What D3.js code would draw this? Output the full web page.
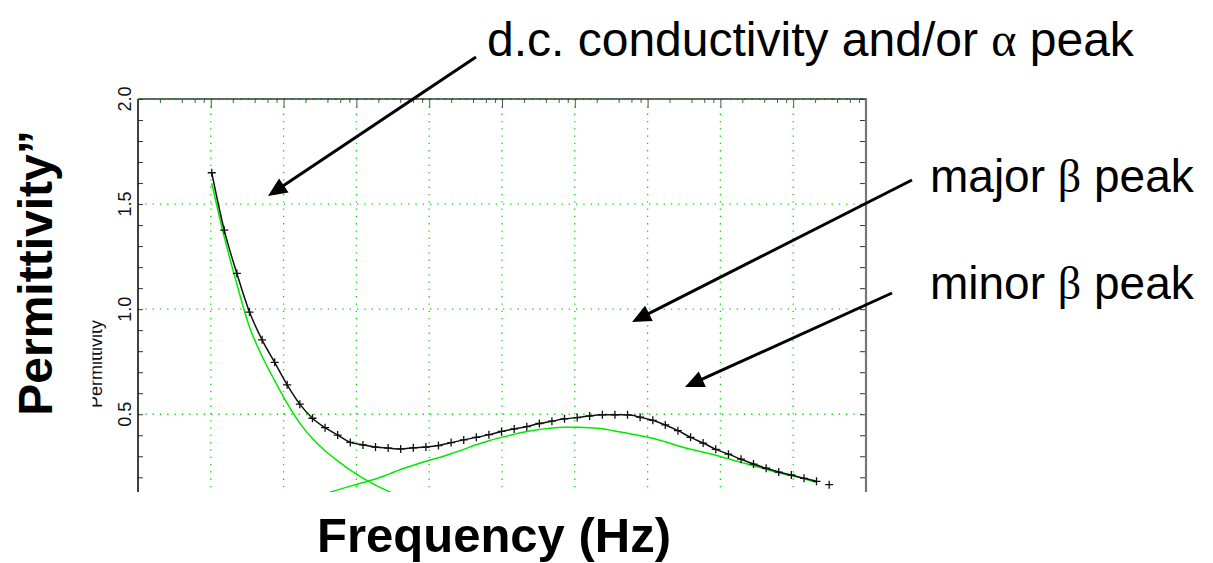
<!DOCTYPE html>
<html>
<head>
<meta charset="utf-8">
<script src="https://cdn.jsdelivr.net/npm/d3@7"></script>
<style>
  body { margin: 0; background: #fff; }
  svg { display: block; font-family: Arial, "Liberation Sans", sans-serif; }
</style>
</head>
<body>
<div id="chart"></div>
<script>
const frequencies = [
  1.03e1, 1.53e1, 2.28e1, 3.40e1, 5.06e1, 7.54e1, 1.12e2, 1.67e2, 2.49e2, 3.71e2,
  5.53e2, 8.24e2, 1.23e3, 1.83e3, 2.73e3, 4.06e3, 6.05e3, 9.01e3, 1.34e4, 2.00e4,
  2.98e4, 4.44e4, 6.61e4, 9.85e4, 1.47e5, 2.19e5, 3.26e5, 4.85e5, 7.22e5, 1.08e6,
  1.60e6, 2.39e6, 3.56e6, 5.30e6, 7.89e6, 1.18e7, 1.75e7, 2.61e7, 3.89e7, 5.79e7,
  8.63e7, 1.29e8, 1.92e8, 2.85e8, 4.25e8, 6.33e8, 9.43e8, 1.41e9, 2.09e9, 3.12e9
];

// measured permittivity'' (black + markers)
const measured = [
  1.649, 1.376, 1.170, 0.986, 0.854, 0.747, 0.640, 0.548, 0.481, 0.436,
  0.401, 0.366, 0.354, 0.344, 0.339, 0.335, 0.340, 0.344, 0.351, 0.365,
  0.378, 0.390, 0.403, 0.418, 0.430, 0.441, 0.456, 0.467, 0.478, 0.484,
  0.492, 0.497, 0.497, 0.497, 0.486, 0.471, 0.449, 0.422, 0.390, 0.363,
  0.333, 0.310, 0.286, 0.263, 0.243, 0.225, 0.211, 0.195, 0.181, 0.165
];

// fitted components (green lines), null where not drawn
const dcComponent = [
  1.599, 1.344, 1.119, 0.915, 0.776, 0.660, 0.552, 0.458, 0.384, 0.326,
  0.278, 0.234, 0.196, 0.163, 0.134, 0.108
];
const betaComponent = [
  null, null, null, null, null, null, null, null, 0.105, 0.121,
  0.140, 0.158, 0.175, 0.192, 0.214, 0.237, 0.257, 0.276, 0.293, 0.312,
  0.333, 0.355, 0.374, 0.390, 0.405, 0.418, 0.427, 0.435, 0.438, 0.438,
  0.436, 0.431, 0.420, 0.410, 0.398, 0.386, 0.369, 0.350, 0.333, 0.319,
  0.305, 0.288, 0.271, 0.255, 0.238, 0.221, 0.208, 0.193, 0.176
];

const yTickValues = [0.5, 1.0, 1.5, 2.0];
const yTickLabels = ["0.5", "1.0", "1.5", "2.0"];
const xDomain = [1, 1e10];
const yDomain = [0.13, 2.0];

const width = 1213, height = 563;
const plot = { left: 138, top: 99, right: 866, bottom: 492 };

const svg = d3.select("#chart").append("svg")
  .attr("width", width)
  .attr("height", height)
  .attr("viewBox", [0, 0, width, height]);

const xScale = d3.scaleLog().domain(xDomain).range([plot.left, plot.right]);
const yScale = d3.scaleLinear().domain(yDomain).range([plot.bottom, plot.top]);

const gridColor = "#00dd00";
const lineGreen = "#00e800";

/*******************************/
/*    grid                     */
/*******************************/
const decades = d3.range(1, 10).map(p => Math.pow(10, p));

svg.append("g")
  .selectAll("line")
  .data(decades)
  .join("line")
    .attr("x1", d => xScale(d)).attr("x2", d => xScale(d))
    .attr("y1", plot.top).attr("y2", plot.bottom)
    .attr("stroke", gridColor)
    .attr("stroke-width", 1.3)
    .attr("stroke-dasharray", "1.3,6");

svg.append("g")
  .selectAll("line")
  .data(yTickValues)
  .join("line")
    .attr("x1", plot.left).attr("x2", plot.right)
    .attr("y1", d => yScale(d)).attr("y2", d => yScale(d))
    .attr("stroke", gridColor)
    .attr("stroke-width", 1.3)
    .attr("stroke-dasharray", "1.3,6");

/*******************************/
/*    axes / frame             */
/*******************************/
const minorY = d3.range(2, 21).map(v => v / 10);

svg.append("g")
  .attr("transform", `translate(${plot.left},0)`)
  .call(d3.axisLeft(yScale).tickValues(minorY).tickSize(-5).tickFormat(""))
  .call(g => g.select(".domain").remove())
  .call(g => g.selectAll("line").attr("stroke", "#333"));

svg.append("g")
  .attr("transform", `translate(${plot.right},0)`)
  .call(d3.axisRight(yScale).tickValues(minorY).tickSize(-6).tickFormat(""))
  .call(g => g.select(".domain").remove())
  .call(g => g.selectAll("line").attr("stroke", "#333"));

const minorX = [];
decades.concat([1]).forEach(d => [2, 4, 6, 8].forEach(m => minorX.push(d * m)));

svg.append("g")
  .attr("transform", `translate(0,${plot.top})`)
  .call(d3.axisTop(xScale).tickValues(minorX).tickSize(-4).tickFormat(""))
  .call(g => g.select(".domain").remove())
  .call(g => g.selectAll("line").attr("stroke", "#555"));

svg.append("g")
  .attr("transform", `translate(0,${plot.top})`)
  .call(d3.axisTop(xScale).tickValues(decades).tickSize(-9).tickFormat(""))
  .call(g => g.select(".domain").remove())
  .call(g => g.selectAll("line").attr("stroke", "#555"));

// frame
svg.append("line")
  .attr("x1", plot.left).attr("x2", plot.left)
  .attr("y1", plot.top).attr("y2", plot.bottom)
  .attr("stroke", "#111").attr("stroke-width", 1.6);
svg.append("line")
  .attr("x1", plot.left).attr("x2", plot.right)
  .attr("y1", plot.top).attr("y2", plot.top)
  .attr("stroke", "#333").attr("stroke-width", 1.6);
svg.append("line")
  .attr("x1", plot.right).attr("x2", plot.right)
  .attr("y1", plot.top - 1).attr("y2", plot.bottom)
  .attr("stroke", "#777").attr("stroke-width", 2.2);
// green dots over the top edge
svg.append("line")
  .attr("x1", plot.left).attr("x2", plot.right)
  .attr("y1", plot.top).attr("y2", plot.top)
  .attr("stroke", gridColor).attr("stroke-width", 1.2)
  .attr("stroke-dasharray", "1.2,6");

// y tick labels (rotated)
svg.append("g")
  .selectAll("text")
  .data(yTickValues)
  .join("text")
    .attr("transform", d => `translate(131,${yScale(d)}) rotate(-90)`)
    .attr("text-anchor", "middle")
    .attr("font-size", 18)
    .attr("fill", "#111")
    .text((d, i) => yTickLabels[i]);

// small, partly hidden axis title
svg.append("clipPath").attr("id", "smallTitleClip")
  .append("rect").attr("x", 92.5).attr("y", 300).attr("width", 20).attr("height", 130);
svg.append("g")
  .attr("clip-path", "url(#smallTitleClip)")
  .append("text")
    .attr("transform", "translate(102,364) rotate(-90)")
    .attr("text-anchor", "middle")
    .attr("font-size", 18)
    .attr("fill", "#111")
    .text("Permittivity");

/*******************************/
/*    curves                   */
/*******************************/
svg.append("clipPath").attr("id", "plotClip")
  .append("rect")
    .attr("x", plot.left).attr("y", plot.top)
    .attr("width", plot.right - plot.left)
    .attr("height", plot.bottom - plot.top);

const curves = svg.append("g").attr("clip-path", "url(#plotClip)");

const lineGen = d3.line()
  .defined(d => d.v != null)
  .x(d => xScale(d.f))
  .y(d => yScale(d.v))
  .curve(d3.curveMonotoneX);

const toPoints = arr => arr.map((v, i) => ({ f: frequencies[i], v }));

curves.append("path")
  .datum(toPoints(dcComponent))
  .attr("d", lineGen)
  .attr("fill", "none").attr("stroke", lineGreen).attr("stroke-width", 1.5);

curves.append("path")
  .datum(toPoints(betaComponent))
  .attr("d", lineGen)
  .attr("fill", "none").attr("stroke", lineGreen).attr("stroke-width", 1.5);

curves.append("path")
  .datum(toPoints(measured).slice(0, measured.length - 1))
  .attr("d", lineGen)
  .attr("fill", "none").attr("stroke", "#111").attr("stroke-width", 1.5);

svg.append("g")
  .selectAll("path")
  .data(toPoints(measured))
  .join("path")
    .attr("transform", d => `translate(${xScale(d.f)},${yScale(d.v)})`)
    .attr("d", "M-4,0H4M0,-4V4")
    .attr("stroke", "#111")
    .attr("stroke-width", 1.3);

/*******************************/
/*    titles & annotations     */
/*******************************/
svg.append("text")
  .attr("transform", "translate(52,273) rotate(-90)")
  .attr("text-anchor", "middle")
  .attr("font-size", 48)
  .attr("font-weight", "bold")
  .text("Permittivity\u201D");

svg.append("text")
  .attr("x", 494).attr("y", 552)
  .attr("text-anchor", "middle")
  .attr("font-size", 49)
  .attr("font-weight", "bold")
  .text("Frequency (Hz)");

const labels = [
  { x: 487, y: 56, size: 48, pre: "d.c. conductivity and/or ", greek: "\u03B1", post: " peak" },
  { x: 930, y: 192, size: 46, pre: "major ", greek: "\u03B2", post: " peak" },
  { x: 930, y: 299, size: 46, pre: "minor ", greek: "\u03B2", post: " peak" }
];

labels.forEach(l => {
  const t = svg.append("text")
    .attr("x", l.x).attr("y", l.y)
    .attr("font-size", l.size)
    .attr("fill", "#000");
  t.append("tspan").text(l.pre);
  t.append("tspan").attr("font-family", "'Liberation Serif', 'DejaVu Serif', serif").text(l.greek);
  t.append("tspan").text(l.post);
});

const arrows = [
  { x1: 476, y1: 57, x2: 268, y2: 196 },
  { x1: 912, y1: 180, x2: 632, y2: 322 },
  { x1: 892, y1: 293, x2: 685, y2: 387 }
];

arrows.forEach(a => {
  const ang = Math.atan2(a.y2 - a.y1, a.x2 - a.x1);
  const headLen = 19, headHalf = 8.5;
  const bx = a.x2 - headLen * Math.cos(ang), by = a.y2 - headLen * Math.sin(ang);
  svg.append("line")
    .attr("x1", a.x1).attr("y1", a.y1)
    .attr("x2", bx + 2 * Math.cos(ang)).attr("y2", by + 2 * Math.sin(ang))
    .attr("stroke", "#000").attr("stroke-width", 3);
  const px = -Math.sin(ang), py = Math.cos(ang);
  svg.append("polygon")
    .attr("points", [
      [a.x2, a.y2],
      [bx + headHalf * px, by + headHalf * py],
      [bx - headHalf * px, by - headHalf * py]
    ].map(p => p.join(",")).join(" "))
    .attr("fill", "#000");
});
</script>
</body>
</html>
